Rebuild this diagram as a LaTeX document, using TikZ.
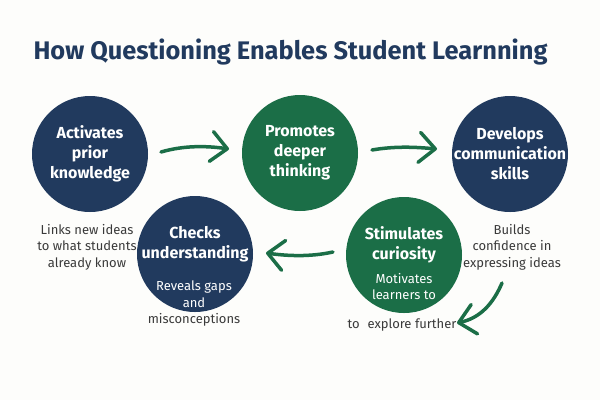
\documentclass[tikz,border=0pt]{standalone}
\usepackage{fontspec}
\setmainfont{Fira Sans}
\usetikzlibrary{arrows.meta}
\definecolor{navy}{HTML}{213A5E}
\definecolor{grn}{HTML}{1B6E47}
\definecolor{txt}{HTML}{3A3A3A}
\definecolor{bg}{HTML}{FDFDFB}
\begin{document}
\begin{tikzpicture}[x=1pt,y=-1pt,
 circ/.style={circle, minimum size=116pt, inner sep=0pt},
 head/.style={font=\bfseries\fontsize{16}{20}\selectfont, text=white, align=center},
 sub/.style={font=\fontsize{13}{16.5}\selectfont, text=txt, align=center},
 insub/.style={font=\fontsize{13}{16.5}\selectfont, text=white, align=center},
 arr/.style={draw=grn, line width=3.5pt, line cap=round, line join=round,
   -{Straight Barb[length=16pt,width=30pt,line cap=round,line join=round]}},
]
\fill[bg] (0,0) rectangle (600,400);
\useasboundingbox (0,0) rectangle (600,400);

\node[anchor=base west, text=navy, font=\bfseries\fontsize{25.4}{30}\selectfont] (title) at (30,59) {How Questioning Enables Student Learnning};

\node[circ, fill=navy] (act) at (90,154) {};
\node[circ, fill=grn]  (pro) at (300,153) {};
\node[circ, fill=navy] (dev) at (510,154) {};
\node[circ, fill=navy] (chk) at (195,254) {};
\node[circ, fill=grn]  (sti) at (404,255) {};

\node[head] (actt) at (act) {Activates\\prior\\knowledge};
\node[head] (prot) at (pro) {Promotes\\deeper\\thinking};
\node[head] (devt) at (dev) {Develops\\communication\\skills};
\node[head] (chkt) at (195,244.5) {Checks\\understanding};
\node[head] (stit) at (404,244.5) {Stimulates\\curiosity};

\node[sub] (links) at (87,247) {Links new ideas\\to what students\\already know};
\node[sub] (builds) at (512,247) {Builds\\confidence in\\expressing ideas};
\node[insub] (rev) at (194,294) {Reveals gaps\\and};
\node[sub] (mis) at (194,320) {misconceptions};
\node[insub] (mot) at (404,286.5) {Motivates\\learners to};
\node[sub] (exp) at (402,325) {to\hspace{0.6em}explore further};

\coordinate (a1s) at (161,152);
\coordinate (a1e) at (229,149);
\coordinate (a2s) at (372,150);
\coordinate (a2e) at (437,149);
\coordinate (a3s) at (333,252);
\coordinate (a3e) at (266,253);
\coordinate (a4s) at (502,283);
\coordinate (a4e) at (457,323);

\draw[arr] (a1s) .. controls (185,145) and (208,146) .. (a1e);
\draw[arr] (a2s) .. controls (395,146) and (415,147) .. (a2e);
\draw[arr] (a3s) .. controls (310,257) and (288,256) .. (a3e);
\draw[arr] (a4s) .. controls (493,304) and (480,318) .. (a4e);
\end{tikzpicture}
\end{document}
